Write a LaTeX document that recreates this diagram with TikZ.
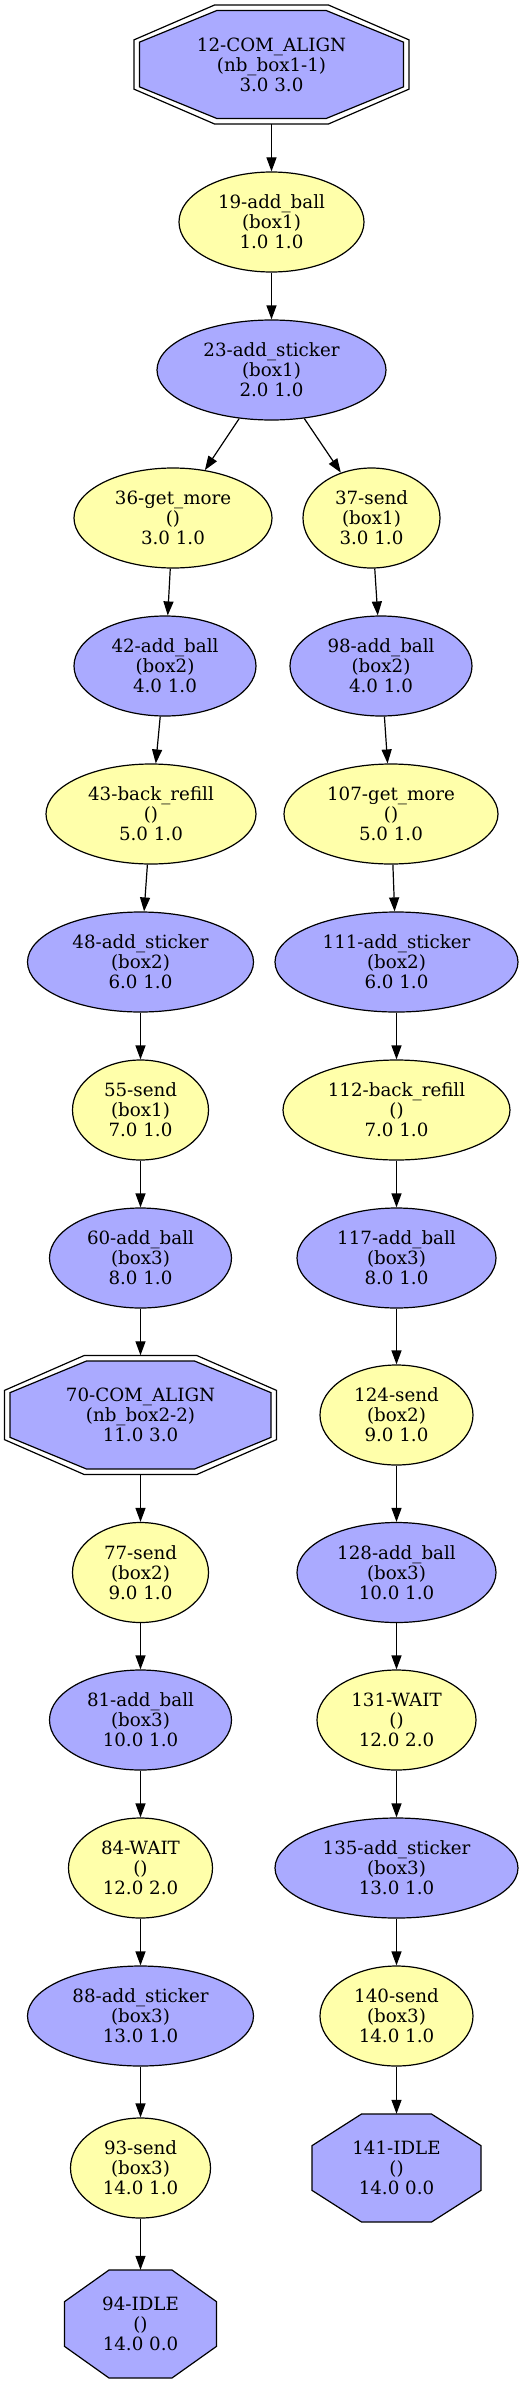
\documentclass[tikz,border=0pt]{standalone}
\usepackage{fontspec}
\setmainfont{DejaVu Serif}
\usepackage{xcolor}
\definecolor{Lavender}{RGB}{170,170,255}
\definecolor{Lemon}{RGB}{255,255,170}
\definecolor{Black}{RGB}{0,0,0}
\usepackage{tikz}
\usetikzlibrary{shapes.geometric, arrows.meta}

% octagon: style, cx, cy, half width, half height
\newcommand{\octshape}[5]{%
	\path[#1] ({#2-(#4)},{#3-0.414*(#5)}) -- ({#2-0.414*(#4)},{#3-(#5)}) -- ({#2+0.414*(#4)},{#3-(#5)}) -- ({#2+(#4)},{#3-0.414*(#5)})
		-- ({#2+(#4)},{#3+0.414*(#5)}) -- ({#2+0.414*(#4)},{#3+(#5)}) -- ({#2-0.414*(#4)},{#3+(#5)}) -- ({#2-(#4)},{#3+0.414*(#5)}) -- cycle;
}

\tikzset{
	lbl/.style={align=center, font=\fontsize{18.25}{20}\selectfont, inner sep=0pt},
	yellowstate/.style={lbl, ellipse, fill=Lemon, draw=Black, line width=1.2pt, minimum width=#1pt, minimum height=100pt},
	bluestate/.style={lbl, ellipse, fill=Lavender, draw=Black, line width=1.2pt, minimum width=#1pt, minimum height=100pt},
	octstate/.style 2 args={lbl, rectangle, minimum width=#1pt, minimum height=#2pt},
	octline/.style={draw=Black, line width=1.2pt},
	octfill/.style={fill=Lavender, draw=Black, line width=1.2pt},
	flow/.style={draw=Black, line width=1.2pt, -{Triangle[length=14pt, width=10pt]}}
}

\begin{document}
\begin{tikzpicture}[x=1pt, y=-1pt]

		\useasboundingbox (0,0) rectangle (530,2384);

		% Octagons
		\octshape{octline}{271.5}{64.5}{137.5}{59.5}
		\octshape{octfill}{271.5}{64.5}{132}{54}
		\octshape{octline}{140.5}{1415}{136}{59.5}
		\octshape{octfill}{140.5}{1415}{130.5}{54}
		\octshape{octfill}{396.5}{2168}{84.5}{54}
		\octshape{octfill}{140.5}{2324}{76}{54}

		% Top
		\node[octstate={275}{119}] (n12) at (271.5,64.5) {12-COM\_ALIGN\\(nb\_box1-1)\\3.0 3.0};
		\node[yellowstate=185] (n19) at (271.5,222) {19-add\_ball\\(box1)\\1.0 1.0};
		\node[bluestate=229] (n23) at (271.5,370) {23-add\_sticker\\(box1)\\2.0 1.0};

		% Left branch
		\node[yellowstate=198] (n36) at (173,518) {36-get\_more\\()\\3.0 1.0};
		\node[bluestate=182] (n42) at (165,666) {42-add\_ball\\(box2)\\4.0 1.0};
		\node[yellowstate=210] (n43) at (151,814) {43-back\_refill\\()\\5.0 1.0};
		\node[bluestate=226] (n48) at (140.5,962) {48-add\_sticker\\(box2)\\6.0 1.0};
		\node[yellowstate=136] (n55) at (140.5,1110) {55-send\\(box1)\\7.0 1.0};
		\node[bluestate=182] (n60) at (140.5,1258) {60-add\_ball\\(box3)\\8.0 1.0};
		\node[octstate={272}{119}] (n70) at (140.5,1415) {70-COM\_ALIGN\\(nb\_box2-2)\\11.0 3.0};
		\node[yellowstate=136] (n77) at (140.5,1572.5) {77-send\\(box2)\\9.0 1.0};
		\node[bluestate=182] (n81) at (140.5,1720) {81-add\_ball\\(box3)\\10.0 1.0};
		\node[yellowstate=144] (n84) at (140.5,1868) {84-WAIT\\()\\12.0 2.0};
		\node[bluestate=226] (n88) at (140.5,2016) {88-add\_sticker\\(box3)\\13.0 1.0};
		\node[yellowstate=140] (n93) at (140.5,2168) {93-send\\(box3)\\14.0 1.0};
		\node[octstate={152}{108}] (n94) at (140.5,2324) {94-IDLE\\()\\14.0 0.0};

		% Right branch
		\node[yellowstate=137] (n37) at (371.5,518) {37-send\\(box1)\\3.0 1.0};
		\node[bluestate=182] (n98) at (381,666) {98-add\_ball\\(box2)\\4.0 1.0};
		\node[yellowstate=214] (n107) at (391,814) {107-get\_more\\()\\5.0 1.0};
		\node[bluestate=243] (n111) at (396.5,962) {111-add\_sticker\\(box2)\\6.0 1.0};
		\node[yellowstate=227] (n112) at (396.5,1110) {112-back\_refill\\()\\7.0 1.0};
		\node[bluestate=199] (n117) at (396.5,1258) {117-add\_ball\\(box3)\\8.0 1.0};
		\node[yellowstate=153] (n124) at (396.5,1415) {124-send\\(box2)\\9.0 1.0};
		\node[bluestate=199] (n128) at (396.5,1572.5) {128-add\_ball\\(box3)\\10.0 1.0};
		\node[yellowstate=159] (n131) at (396.5,1720) {131-WAIT\\()\\12.0 2.0};
		\node[bluestate=243] (n135) at (396.5,1868) {135-add\_sticker\\(box3)\\13.0 1.0};
		\node[yellowstate=153] (n140) at (396.5,2016) {140-send\\(box3)\\14.0 1.0};
		\node[octstate={169}{108}] (n141) at (396.5,2168) {141-IDLE\\()\\14.0 0.0};

		% Edges
		\draw[flow] (n12) -- (n19);
		\draw[flow] (n19) -- (n23);
		\draw[flow] (n23) -- (n36);
		\draw[flow] (n23) -- (n37);

		\draw[flow] (n36) -- (n42);
		\draw[flow] (n42) -- (n43);
		\draw[flow] (n43) -- (n48);
		\draw[flow] (n48) -- (n55);
		\draw[flow] (n55) -- (n60);
		\draw[flow] (n60) -- (n70);
		\draw[flow] (n70) -- (n77);
		\draw[flow] (n77) -- (n81);
		\draw[flow] (n81) -- (n84);
		\draw[flow] (n84) -- (n88);
		\draw[flow] (n88) -- (n93);
		\draw[flow] (n93) -- (n94);

		\draw[flow] (n37) -- (n98);
		\draw[flow] (n98) -- (n107);
		\draw[flow] (n107) -- (n111);
		\draw[flow] (n111) -- (n112);
		\draw[flow] (n112) -- (n117);
		\draw[flow] (n117) -- (n124);
		\draw[flow] (n124) -- (n128);
		\draw[flow] (n128) -- (n131);
		\draw[flow] (n131) -- (n135);
		\draw[flow] (n135) -- (n140);
		\draw[flow] (n140) -- (n141);

\end{tikzpicture}
\end{document}
